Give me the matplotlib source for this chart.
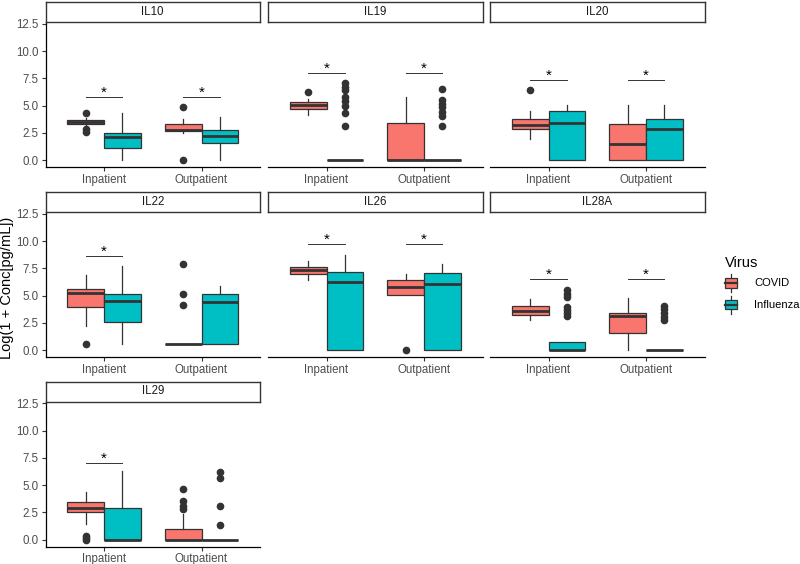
"""Cytokine levels by hospitalisation status, COVID vs Influenza (facetted boxplots)."""
import matplotlib.pyplot as plt
from matplotlib.patches import Patch, Rectangle
from matplotlib.lines import Line2D
from matplotlib.legend_handler import HandlerBase

plt.rcParams['font.family'] = ['Liberation Sans', 'DejaVu Sans']

COVID = "#F8766D"
FLU = "#00BFC4"
EDGE = "#333333"

groups = ["Inpatient", "Outpatient"]
viruses = ["COVID", "Influenza"]
yticks = [0.0, 2.5, 5.0, 7.5, 10.0, 12.5]

# each row: q1, median, q3, whisker low, whisker high
# order: Inpatient/COVID, Inpatient/Influenza, Outpatient/COVID, Outpatient/Influenza
il10_box = [[3.35, 3.55, 3.72, 3.15, 3.85], [1.10, 2.17, 2.54, 0.0, 4.31],
            [2.66, 2.80, 3.30, 2.48, 3.76], [1.62, 2.23, 2.78, 0.0, 3.98]]
il10_out = [[4.30, 2.85, 2.60], [], [4.86, 0.0], []]
il10_sig = [5.84, 5.84]

il19_box = [[4.74, 5.05, 5.32, 4.16, 5.60], [0.0, 0.0, 0.0, 0.0, 0.0],
            [0.0, 0.0, 3.40, 0.0, 5.84], [0.0, 0.0, 0.0, 0.0, 0.0]]
il19_out = [[6.24], [7.10, 6.75, 6.40, 5.80, 5.40, 5.00, 4.30, 3.15], [],
            [6.50, 5.55, 5.20, 4.85, 4.45, 4.05, 3.15]]
il19_sig = [8.04, 8.04]

il20_box = [[2.87, 3.27, 3.76, 1.96, 4.53], [0.0, 3.42, 4.53, 0.0, 5.05],
            [0.0, 1.47, 3.30, 0.0, 5.05], [0.0, 2.84, 3.76, 0.0, 5.05]]
il20_out = [[6.45], [], [], []]
il20_sig = [7.34, 7.34]

il22_box = [[3.96, 5.24, 5.64, 2.23, 6.86], [2.59, 4.51, 5.18, 0.61, 7.77],
            [0.61, 0.61, 0.61, 0.61, 0.61], [0.61, 4.39, 5.12, 0.61, 5.91]]
il22_out = [[0.61], [], [7.90, 5.15, 4.12], []]
il22_sig = [8.63, None]

il26_box = [[6.95, 7.32, 7.62, 6.40, 8.17], [0.0, 6.25, 7.20, 0.0, 8.72],
            [5.06, 5.76, 6.40, 5.06, 6.95], [0.0, 6.04, 7.07, 0.0, 7.93]]
il26_out = [[], [], [0.0], []]
il26_sig = [9.73, 9.73]

il28a_box = [[3.20, 3.60, 4.02, 2.74, 4.73], [0.0, 0.0, 0.80, 0.0, 0.80],
             [1.62, 3.17, 3.41, 0.0, 4.82], [0.0, 0.0, 0.0, 0.0, 0.0]]
il28a_out = [[], [5.50, 5.20, 4.90, 4.00, 3.70, 3.40, 3.10], [],
             [4.10, 3.75, 3.40, 3.05, 2.75]]
il28a_sig = [6.52, 6.52]

il29_box = [[2.57, 2.94, 3.49, 1.41, 4.41], [0.0, 0.0, 2.91, 0.0, 6.28],
            [0.0, 0.0, 0.98, 0.0, 2.40], [0.0, 0.0, 0.0, 0.0, 0.0]]
il29_out = [[0.37, 0.12, 0.0], [], [4.66, 3.55, 3.06, 2.82], [6.19, 5.64, 3.06, 1.32]]
il29_sig = [7.02, None]

panels = [("IL10", il10_box, il10_out, il10_sig),
          ("IL19", il19_box, il19_out, il19_sig),
          ("IL20", il20_box, il20_out, il20_sig),
          ("IL22", il22_box, il22_out, il22_sig),
          ("IL26", il26_box, il26_out, il26_sig),
          ("IL28A", il28a_box, il28a_out, il28a_sig),
          ("IL29", il29_box, il29_out, il29_sig)]

W, H = 800, 564
fig = plt.figure(figsize=(W / 100, H / 100), dpi=100)

col_left = [45.5, 268, 490]
row_top = [22, 212, 401.5]
pw, ph, sh = 214.5, 145, 20
dodge = 0.1875
bw = 0.375

for i, (name, box, out, sig) in enumerate(panels):
    r, c = divmod(i, 3)
    x0, y0 = col_left[c], row_top[r]
    ax = fig.add_axes([x0 / W, 1 - (y0 + ph) / H, pw / W, ph / H])

    stats, pos, cols = [], [], []
    for k, (q1, med, q3, lo, hi) in enumerate(box):
        g, v = divmod(k, 2)
        stats.append(dict(q1=q1, med=med, q3=q3, whislo=lo, whishi=hi, fliers=out[k]))
        pos.append(g + 1 + (dodge if v else -dodge))
        cols.append(FLU if v else COVID)
    res = ax.bxp(stats, positions=pos, widths=bw, showcaps=False, patch_artist=True,
                 boxprops=dict(edgecolor=EDGE, linewidth=0.9),
                 whiskerprops=dict(color=EDGE, linewidth=0.9),
                 medianprops=dict(color=EDGE, linewidth=2.0, solid_capstyle='butt'),
                 flierprops=dict(marker='o', markerfacecolor=EDGE, markeredgecolor=EDGE,
                                 markersize=4.5))
    for patch, col in zip(res['boxes'], cols):
        patch.set_facecolor(col)

    for g, h in enumerate(sig):
        if h is None:
            continue
        ax.plot([g + 1 - dodge, g + 1 + dodge], [h, h], color=EDGE, lw=0.7)
        ax.text(g + 1, h - 0.25, "*", ha='center', va='bottom', fontsize=11, color='black')

    ax.set_xlim(0.4, 2.6)
    ax.set_ylim(-0.62, 12.68)
    ax.set_xticks([1, 2])
    ax.set_xticklabels(groups)
    ax.set_yticks(yticks)
    ax.set_yticklabels([f"{t:.1f}" for t in yticks])
    ax.tick_params(colors="#333333", labelcolor="#4D4D4D", labelsize=8.3, length=3,
                   width=0.8, pad=2)
    for s in ("top", "right"):
        ax.spines[s].set_visible(False)
    ax.spines["bottom"].set_linewidth(0.9)
    ax.spines["left"].set_linewidth(0.9)
    if c != 0:
        ax.spines["left"].set_visible(False)
        ax.tick_params(axis='y', left=False, labelleft=False)

    sax = fig.add_axes([x0 / W, 1 - y0 / H, pw / W, sh / H])
    sax.set_xticks([])
    sax.set_yticks([])
    for s in sax.spines.values():
        s.set_linewidth(1.0)
        s.set_color("#333333")
    sax.text(0.5, 0.5, name, ha='center', va='center', fontsize=8.3, color="#1A1A1A",
             transform=sax.transAxes)

fig.text(7.5 / W, 1 - 288 / H, "Log(1 + Conc[pg/mL])", rotation=90,
         ha='center', va='center', fontsize=10.5, color='black')


class BoxKey(HandlerBase):
    def create_artists(self, legend, orig_handle, xdescent, ydescent, width, height,
                       fontsize, trans):
        x0, y0 = -xdescent, -ydescent
        cx, cy = x0 + width / 2, y0 + height / 2
        whisk = Line2D([cx, cx], [y0, y0 + height], color=EDGE, lw=0.9, transform=trans)
        rect = Rectangle((x0, y0 + height * 0.23), width, height * 0.54,
                         facecolor=orig_handle.get_facecolor(), edgecolor=EDGE, lw=0.9,
                         transform=trans)
        med = Line2D([x0, x0 + width], [cy, cy], color=EDGE, lw=1.6, transform=trans)
        return [whisk, rect, med]


handles = [Patch(facecolor=COVID), Patch(facecolor=FLU)]
leg = fig.legend(handles, viruses, title="Virus", loc='upper left',
                 bbox_to_anchor=(715 / W, 1 - 246 / H), frameon=False, fontsize=8,
                 title_fontsize=10.5, handler_map={Patch: BoxKey()}, handlelength=1.1,
                 handleheight=2.1, handletextpad=1.5, labelspacing=0.35)
leg._legend_box.align = "left"

fig.savefig("out.png", dpi=100)
